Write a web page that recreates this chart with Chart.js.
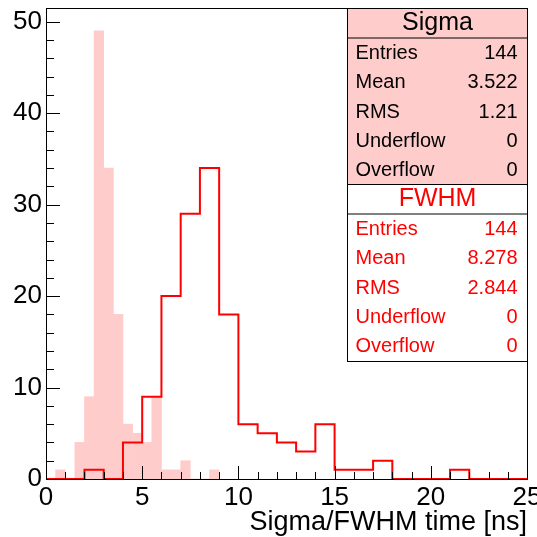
<!DOCTYPE html>
<html>
<head>
<meta charset="utf-8">
<script src="https://cdn.jsdelivr.net/npm/chart.js@4.4.0/dist/chart.umd.min.js"></script>
<style>
  html, body { margin: 0; padding: 0; background: #ffffff; }
  #wrap { width: 537px; height: 537px; }
</style>
</head>
<body>
<div id="wrap"><canvas id="chart" width="537" height="537"></canvas></div>
<script>
// Sigma histogram: bin lower edges (width 0.5 ns) and counts
var sigmaBinWidth = 0.5;
var sigmaBins = [0, 0.5, 1, 1.5, 2, 2.5, 3, 3.5, 4, 4.5, 5, 5.5, 6, 6.5, 7, 7.5, 8, 8.5];
var sigmaCounts = [0, 1, 0, 4, 9, 49, 34, 18, 6, 5, 4, 9, 1, 1, 2, 0, 0, 1];

// FWHM histogram: bin edges (width 1 ns) and counts
var fwhmEdges = [0, 1, 2, 3, 4, 5, 6, 7, 8, 9, 10, 11, 12, 13, 14, 15, 16, 17, 18, 19, 20, 21, 22, 23, 24, 25];
var fwhmCounts = [0, 0, 1, 0, 4, 9, 20, 29, 34, 18, 6, 5, 4, 3, 6, 1, 1, 2, 0, 0, 0, 1, 0, 0, 0];

// stat boxes
var statLabels = ['Entries', 'Mean', 'RMS', 'Underflow', 'Overflow'];
var sigmaStats = ['144', '3.522', '1.21', '0', '0'];
var fwhmStats = ['144', '8.278', '2.844', '0', '0'];

var xTicks = [0, 5, 10, 15, 20, 25];
var yTicks = [0, 10, 20, 30, 40, 50];

var FONT = '"Liberation Sans", Arial, Helvetica, sans-serif';
var PINK = '#ffcccc';
var RED = '#ff0000';

var sigmaPoints = sigmaBins.map(function (lo, i) {
    return { x: lo + sigmaBinWidth / 2, y: sigmaCounts[i] };
});
var fwhmPoints = fwhmEdges.map(function (e, i) {
    var v = i < fwhmCounts.length ? fwhmCounts[i] : fwhmCounts[fwhmCounts.length - 1];
    return { x: e, y: v };
});

// ROOT style frame, inside ticks and the two stat boxes
var rootStyle = {
    id: 'rootStyle',
    afterDatasetsDraw: function (chart) {
        var ctx = chart.ctx;
        var a = chart.chartArea;
        var xs = chart.scales.x, ys = chart.scales.y;
        ctx.save();
        ctx.strokeStyle = '#000000';
        ctx.lineWidth = 1;
        ctx.beginPath();
        var v, px;
        for (v = 0; v <= 25; v += 1) {
            px = Math.round(xs.getPixelForValue(v)) + 0.5;
            var len = (v % 5 === 0) ? 13 : 7;
            ctx.moveTo(px, a.bottom);
            ctx.lineTo(px, a.bottom - len);
        }
        for (v = 0; v <= 50; v += 2) {
            px = Math.round(ys.getPixelForValue(v)) + 0.5;
            var l2 = (v % 10 === 0) ? 14 : 8;
            ctx.moveTo(a.left, px);
            ctx.lineTo(a.left + l2, px);
        }
        ctx.stroke();
        ctx.strokeRect(Math.round(a.left) + 0.5, Math.round(a.top) + 0.5,
            Math.round(a.right - a.left), Math.round(a.bottom - a.top));
        ctx.restore();
    },
    afterDraw: function (chart) {
        var ctx = chart.ctx;
        var a = chart.chartArea;
        var right = Math.round(a.right) + 0.5;
        var left = right - 180;
        var top = Math.round(a.top) + 0.5;
        drawBox(ctx, left, top, right, 176, 'Sigma', sigmaStats, PINK, '#000000');
        drawBox(ctx, left, top + 176, right, 177, 'FWHM', fwhmStats, '#ffffff', RED);
    }
};

function drawBox(ctx, left, top, right, h, title, values, fill, color) {
    ctx.save();
    ctx.fillStyle = fill;
    ctx.fillRect(left, top, right - left, h);
    ctx.strokeStyle = '#000000';
    ctx.lineWidth = 1;
    ctx.strokeRect(left, top, right - left, h);
    ctx.beginPath();
    ctx.moveTo(left, top + 29.5);
    ctx.lineTo(right, top + 29.5);
    ctx.stroke();
    ctx.fillStyle = color;
    ctx.textBaseline = 'middle';
    ctx.font = '25px ' + FONT;
    ctx.textAlign = 'center';
    ctx.fillText(title, (left + right) / 2, top + 15);
    ctx.font = '20px ' + FONT;
    for (var i = 0; i < statLabels.length; i++) {
        var y = top + 45 + i * 29.3;
        ctx.textAlign = 'left';
        ctx.fillText(statLabels[i], left + 8, y);
        ctx.textAlign = 'right';
        ctx.fillText(values[i], right - 10, y);
    }
    ctx.restore();
}

new Chart(document.getElementById('chart'), {
    type: 'bar',
    data: {
        datasets: [{
            type: 'line',
            label: 'FWHM',
            data: fwhmPoints,
            borderColor: RED,
            borderWidth: 2,
            pointRadius: 0,
            fill: false,
            stepped: true,
            order: 0
        }, {
            type: 'bar',
            label: 'Sigma',
            data: sigmaPoints,
            backgroundColor: PINK,
            borderWidth: 0,
            barPercentage: 1,
            categoryPercentage: 1,
            order: 1
        }]
    },
    options: {
        responsive: false,
        animation: false,
        devicePixelRatio: 1,
        layout: { padding: { top: 8, right: 10, left: 0, bottom: 0 } },
        plugins: { legend: { display: false }, tooltip: { enabled: false } },
        scales: {
            x: {
                type: 'linear',
                min: 0,
                max: 25,
                offset: false,
                grid: { display: false, drawTicks: false },
                border: { display: false },
                afterBuildTicks: function (scale) {
                    scale.ticks = xTicks.map(function (t) { return { value: t }; });
                },
                ticks: {
                    autoSkip: false,
                    maxRotation: 0,
                    padding: 3,
                    color: '#000000',
                    font: { family: FONT, size: 26 },
                    callback: function (v) { return String(v); }
                },
                title: {
                    display: true,
                    text: 'Sigma/FWHM time [ns]',
                    align: 'end',
                    color: '#000000',
                    font: { family: FONT, size: 27, lineHeight: 1 },
                    padding: { top: 0, bottom: 1 }
                },
                afterFit: function (scale) {
                    scale.height = 58;
                    scale.paddingLeft = 0;
                    scale.paddingRight = 0;
                }
            },
            y: {
                min: 0,
                max: 51.5,
                grid: { display: false, drawTicks: false },
                border: { display: false },
                afterBuildTicks: function (scale) {
                    scale.ticks = yTicks.map(function (t) { return { value: t }; });
                },
                ticks: {
                    autoSkip: false,
                    padding: 4,
                    color: '#000000',
                    font: { family: FONT, size: 26 },
                    callback: function (v) { return String(v); }
                },
                afterFit: function (scale) {
                    scale.width = 46;
                    scale.paddingTop = 0;
                    scale.paddingBottom = 0;
                }
            }
        }
    },
    plugins: [rootStyle]
});
</script>
</body>
</html>
